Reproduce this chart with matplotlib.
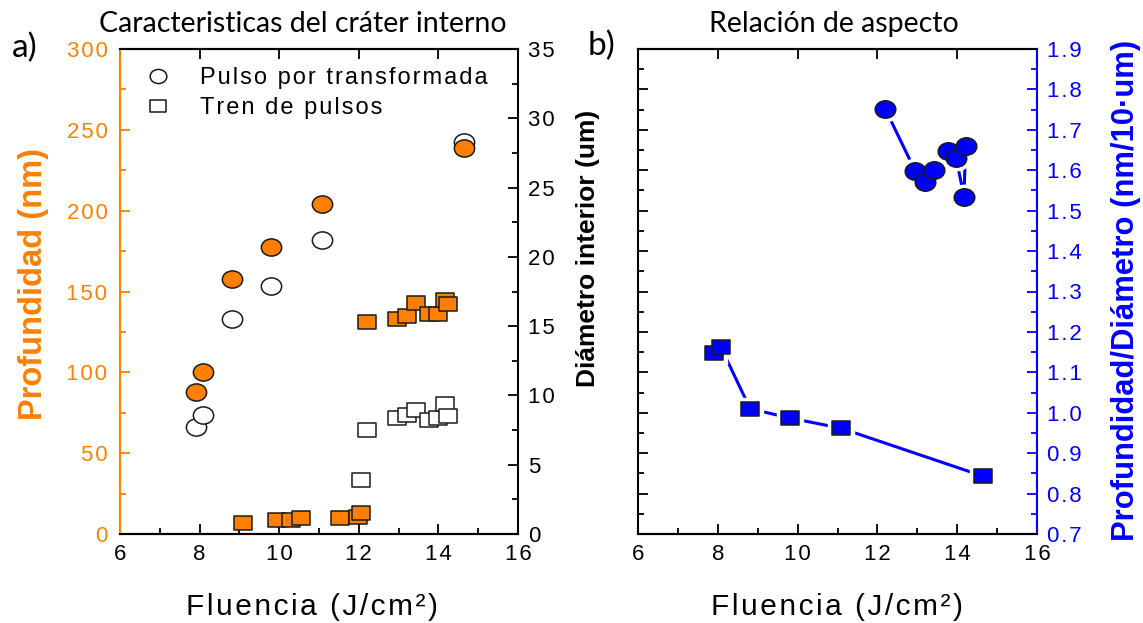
import numpy as np
import matplotlib
matplotlib.use("Agg")
import matplotlib.pyplot as plt
from matplotlib.path import Path
from matplotlib.transforms import Affine2D
from matplotlib.lines import Line2D
from matplotlib.ticker import MultipleLocator, FuncFormatter

plt.rcParams["font.family"] = ["Liberation Sans", "DejaVu Sans"]

# ---------------- data ----------------
# Pulso por transformada
fluencia_pt = [7.90, 8.08, 8.81, 9.80, 11.08, 14.65]
profundidad_pt = [88, 100, 157.5, 177.5, 204, 239]
diametro_pt = [7.7, 8.6, 15.5, 17.9, 21.2, 28.3]
relacion_pt = [1.147, 1.162, 1.010, 0.987, 0.962, 0.843]

# Tren de pulsos
fluencia_tren = [9.10, 9.94, 10.30, 10.55, 11.53, 11.99, 12.05,
                 12.20, 12.95, 13.22, 13.44, 13.77, 14.00, 14.17, 14.23]
profundidad_tren = [7, 8.7, 8.7, 9.7, 9.7, 10.7, 12.8,
                    131, 133, 135, 143, 136, 136, 145, 142]
diametro_tren = [np.nan, np.nan, np.nan, np.nan, np.nan, np.nan, 3.9,
                 7.5, 8.35, 8.6, 8.95, 8.25, 8.35, 9.4, 8.5]
fluencia_rel_tren = [12.20, 12.95, 13.20, 13.43, 13.76, 13.97, 14.17, 14.21]
relacion_tren = [1.751, 1.598, 1.572, 1.601, 1.648, 1.631, 1.535, 1.660]

x_ticks = [6, 8, 10, 12, 14, 16]
prof_ticks = [0, 50, 100, 150, 200, 250, 300]
diam_ticks = [0, 5, 10, 15, 20, 25, 30, 35]
rel_ticks = [0.7, 0.8, 0.9, 1.0, 1.1, 1.2, 1.3, 1.4, 1.5, 1.6, 1.7, 1.8, 1.9]

# ---------------- style ----------------
ORANGE = "#FF8000"
BLUE = "#0000FF"
EDGE = "#1a1a1a"
HS = "\u200a"
SANS = ["Liberation Sans", "DejaVu Sans"]


def spaced(s):
    return HS.join(s)


# slightly wide markers
ELLIPSE = Path.unit_circle().transformed(Affine2D().scale(1.18, 1.0))
RECT = Path.unit_rectangle().transformed(
    Affine2D().translate(-0.5, -0.5).scale(1.18, 1.0))

W, H = 1143, 623
fig = plt.figure(figsize=(W / 100, H / 100), dpi=100)

TICK_FS = 16


def style_axis(ax):
    for s in ax.spines.values():
        s.set_linewidth(1.5)
    ax.tick_params(which="both", direction="in", width=1.3, labelsize=TICK_FS, pad=7)
    ax.tick_params(which="major", length=7)
    ax.tick_params(which="minor", length=4)


# ---------------- panel a ----------------
ax1 = fig.add_axes([120 / W, (H - 534) / H, 398 / W, 485 / H])
ax1r = ax1.twinx()
ax1.set_zorder(ax1r.get_zorder() + 1)
ax1.patch.set_visible(False)

for ax in (ax1, ax1r):
    style_axis(ax)
    ax.set_xlim(6, 16)

ax1.set_ylim(0, 300)
ax1r.set_ylim(0, 35)

ax1.set_xticks(x_ticks)
ax1.xaxis.set_minor_locator(MultipleLocator(1))
ax1.xaxis.set_major_formatter(FuncFormatter(lambda v, p: spaced(f"{v:g}")))
ax1.tick_params(axis="x", top=True, labeltop=False)

ax1.set_yticks(prof_ticks)
ax1.yaxis.set_minor_locator(MultipleLocator(25))
ax1.yaxis.set_major_formatter(FuncFormatter(lambda v, p: spaced(f"{v:g}")))
ax1.tick_params(axis="y", which="both", colors=ORANGE, right=False, pad=9)
ax1.spines["left"].set_color(ORANGE)
ax1.spines["right"].set_visible(False)

ax1r.set_yticks(diam_ticks)
ax1r.yaxis.set_minor_locator(MultipleLocator(2.5))
ax1r.yaxis.set_major_formatter(FuncFormatter(lambda v, p: spaced(f"{v:g}")))
ax1r.spines["left"].set_visible(False)

# diameters: open markers (behind)
ax1r.plot(fluencia_pt, diametro_pt, ls="none", marker=ELLIPSE, ms=14.6,
          mfc="white", mec=EDGE, mew=1.1)
ax1r.plot(fluencia_tren, diametro_tren, ls="none", marker=RECT, ms=12.6,
          mfc="white", mec=EDGE, mew=1.1)
# depths: orange filled markers (front)
ax1.plot(fluencia_pt, profundidad_pt, ls="none", marker=ELLIPSE, ms=14.6,
         mfc=ORANGE, mec=EDGE, mew=1.1, clip_on=False)
ax1.plot(fluencia_tren, profundidad_tren, ls="none", marker=RECT, ms=12.6,
         mfc=ORANGE, mec=EDGE, mew=1.1, clip_on=False)

handles = [
    Line2D([], [], ls="none", marker=ELLIPSE, ms=12, mfc="white", mec=EDGE, mew=1.1),
    Line2D([], [], ls="none", marker=RECT, ms=11, mfc="white", mec=EDGE, mew=1.1),
]
ax1.legend(handles, [spaced("Pulso por transformada"), spaced("Tren de pulsos")],
           loc="upper left", bbox_to_anchor=(0.065, 0.963), frameon=False,
           fontsize=17, handlelength=1.0, handletextpad=1.3,
           labelspacing=0.36, borderpad=0, borderaxespad=0)

ax1.set_xlabel(spaced("Fluencia (J/cm²)"), fontsize=21.5, va="baseline")
ax1.xaxis.set_label_coords((312 - 120) / 398, (534 - 615) / 485)
ax1.set_ylabel("Profundidad (nm)", family=SANS, fontsize=23.5, fontweight="bold",
               color=ORANGE, va="center")
ax1.yaxis.set_label_coords((34 - 120) / 398, (534 - 284) / 485)
ax1r.set_ylabel("Diámetro interior (um)", family=SANS, fontsize=19,
                fontweight="bold", va="center", rotation=90)
ax1r.yaxis.set_label_coords((588 - 120) / 398, (534 - 248) / 485)

# ---------------- panel b ----------------
ax2 = fig.add_axes([638 / W, (H - 534) / H, 399 / W, 485 / H])
ax2r = ax2.twinx()
for ax in (ax2, ax2r):
    style_axis(ax)
    ax.set_xlim(6, 16)
    ax.set_ylim(0.7, 1.9)
    ax.set_yticks(rel_ticks)
    ax.yaxis.set_minor_locator(MultipleLocator(0.05))

ax2.set_xticks(x_ticks)
ax2.xaxis.set_minor_locator(MultipleLocator(1))
ax2.xaxis.set_major_formatter(FuncFormatter(lambda v, p: spaced(f"{v:g}")))
ax2.tick_params(axis="x", top=True, labeltop=False)
ax2.tick_params(axis="y", which="both", left=True, labelleft=False, right=False)
ax2.spines["right"].set_visible(False)

ax2r.spines["left"].set_visible(False)
ax2r.spines["right"].set_color(BLUE)
ax2r.tick_params(axis="y", which="both", colors=BLUE)
ax2r.yaxis.set_major_formatter(FuncFormatter(lambda v, p: spaced(f"{v:.1f}")))

# connecting lines with a small gap around each marker
for xs, ys, mk, ms in ((fluencia_pt, relacion_pt, RECT, 12.6),
                       (fluencia_rel_tren, relacion_tren, ELLIPSE, 14.8)):
    ax2r.plot(xs, ys, color=BLUE, lw=2.2, zorder=1)
    ax2r.plot(xs, ys, ls="none", marker=mk, ms=ms + 6, mfc="white", mec="white",
              zorder=2)
    ax2r.plot(xs, ys, ls="none", marker=mk, ms=ms, mfc=BLUE, mec=EDGE, mew=1.1,
              zorder=3)

ax2.set_xlabel(spaced("Fluencia (J/cm²)"), fontsize=21.5, va="baseline")
ax2.xaxis.set_label_coords((837 - 638) / 399, (534 - 615) / 485)
ax2r.set_ylabel("Profundidad/Diámetro (nm/10·um)", family=SANS, fontsize=22.3,
                fontweight="bold", color=BLUE, va="center", rotation=90)
ax2r.yaxis.set_label_coords((1126 - 638) / 399, (534 - 290) / 485)

# ---------------- titles / panel letters ----------------
fig.text(303 / W, 1 - 24 / H, "Caracteristicas del cráter interno", family="Lato",
         fontsize=20.5, ha="center", va="center")
fig.text(834 / W, 1 - 24 / H, "Relación de aspecto", family="Lato",
         fontsize=20.5, ha="center", va="center")
fig.text(25 / W, 1 - 48 / H, "a)", family="Lato", fontsize=24, ha="center", va="center")
fig.text(601 / W, 1 - 46 / H, "b)", family="Lato", fontsize=24, ha="center", va="center")

fig.savefig("out.png", dpi=100)
